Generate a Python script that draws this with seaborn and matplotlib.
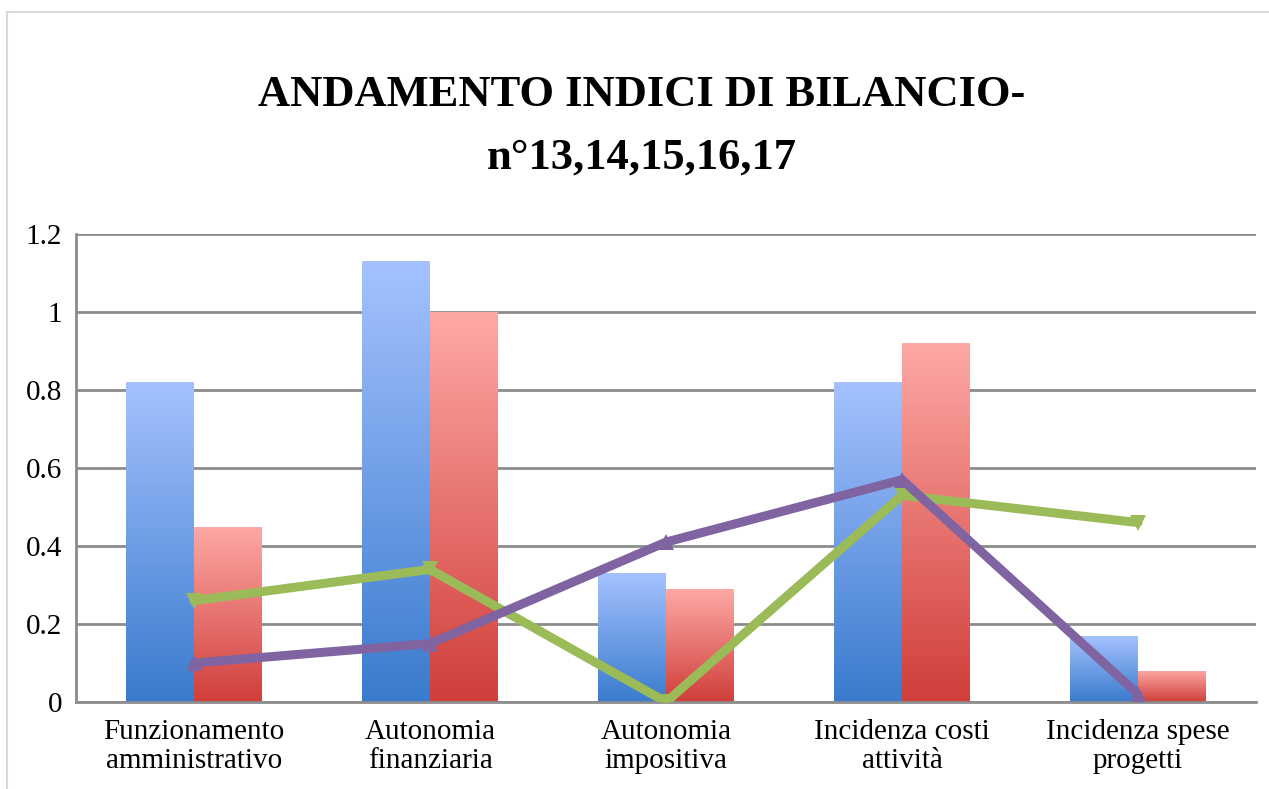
import numpy as np
import pandas as pd
import seaborn as sns
import matplotlib.pyplot as plt
from matplotlib.colors import LinearSegmentedColormap
from matplotlib.patches import Rectangle

# categories and values
categorie = ['Funzionamento\namministrativo', 'Autonomia\nfinanziaria', 'Autonomia\nimpositiva',
             'Incidenza costi\nattività', 'Incidenza spese\nprogetti']
serie_blu = [0.82, 1.13, 0.33, 0.82, 0.17]
serie_rossa = [0.45, 1.00, 0.29, 0.92, 0.08]
serie_verde = [0.26, 0.34, 0.00, 0.53, 0.46]
serie_viola = [0.10, 0.15, 0.41, 0.57, 0.02]
y_ticks = [0, 0.2, 0.4, 0.6, 0.8, 1, 1.2]
y_labels = ['0', '0.2', '0.4', '0.6', '0.8', '1', '1.2']

# long table for the bars
bars = pd.DataFrame({
    'Indice': categorie * 2,
    'Valore': serie_blu + serie_rossa,
    'Serie': ['blu'] * 5 + ['rossa'] * 5,
})

sns.set_style('white')
plt.rcParams['font.family'] = ['Liberation Serif', 'DejaVu Serif']
plt.rcParams['text.color'] = 'black'

fig = plt.figure(figsize=(12.69, 7.89), dpi=100)
ax = fig.add_axes([76 / 1269, 1 - 702 / 789, 1180 / 1269, 468 / 789])

# chart border (top and left edges visible)
fig.patches.append(Rectangle((7 / 1269, -0.1), 1.2, 1 - 12 / 789 + 0.1, transform=fig.transFigure,
                             fill=False, edgecolor='#d9d9d9', linewidth=1.5, zorder=0))

sns.barplot(data=bars, x='Indice', y='Valore', hue='Serie', order=categorie,
            palette={'blu': '#6a9be6', 'rossa': '#e66a66'}, width=0.576, gap=0,
            legend=False, ax=ax, zorder=2, linewidth=0)

# vertical gradient on each bar
cmap_blu = LinearSegmentedColormap.from_list('blu', ['#3a7bcd', '#a5c2ff'])
cmap_rossa = LinearSegmentedColormap.from_list('rossa', ['#d03e3a', '#fea9a5'])
grad = np.linspace(0, 1, 256).reshape(-1, 1)
for cont, cmap in zip(ax.containers, [cmap_blu, cmap_rossa]):
    for p in cont.patches:
        x0, w, h = p.get_x(), p.get_width(), p.get_height()
        if h <= 0:
            continue
        p.set_facecolor('none')
        im = ax.imshow(grad, cmap=cmap, origin='lower', aspect='auto',
                       extent=[x0, x0 + w, 0, h], zorder=2)
        im.set_clip_path(p)

# line series
xpos = np.arange(len(categorie))
sns.lineplot(x=xpos, y=serie_verde, color='#9bbb59', linewidth=6.5, marker='v',
             markersize=12, markeredgewidth=0, ax=ax, zorder=4)
sns.lineplot(x=xpos, y=serie_viola, color='#8064a2', linewidth=6.5, marker='^',
             markersize=12, markeredgewidth=0, ax=ax, zorder=5)

ax.set_xlim(-0.5, 4.5)
ax.set_ylim(0, 1.2)
ax.set_yticks(y_ticks)
ax.set_yticklabels(y_labels)
ax.set_xticks(xpos)
ax.set_xticklabels(categorie, linespacing=1.15)
ax.yaxis.grid(True, color='#8c8c8c', linewidth=2, zorder=1)
ax.set_axisbelow(True)
ax.set_xlabel('')
ax.set_ylabel('')
ax.tick_params(axis='both', labelsize=21, length=0, colors='black')
ax.tick_params(axis='x', pad=12)
ax.tick_params(axis='y', pad=10)
for s in ['top', 'right']:
    ax.spines[s].set_visible(False)
for s in ['left', 'bottom']:
    ax.spines[s].set_color('#8c8c8c')
    ax.spines[s].set_linewidth(2)

fig.text(642 / 1269, 1 - 95 / 789, 'ANDAMENTO INDICI DI BILANCIO-', ha='center', va='center',
         fontsize=32, fontweight='bold', color='black')
fig.text(642 / 1269, 1 - 158 / 789, 'n°13,14,15,16,17', ha='center', va='center',
         fontsize=32, fontweight='bold', color='black')

fig.savefig('out.png', dpi=100)
